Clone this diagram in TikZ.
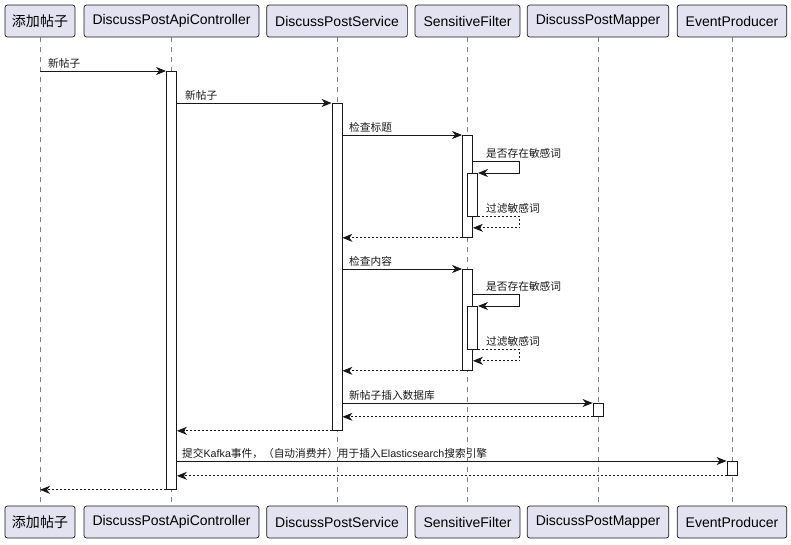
\documentclass[tikz,border=0pt]{standalone}
\usepackage{fontspec}
\setmainfont{Liberation Sans}
\newfontfamily\cjk{Noto Sans CJK SC}
\usepackage{tikz}
\usetikzlibrary{arrows.meta,
                positioning}
\definecolor{partfill}{HTML}{E2E2F0}
\definecolor{linecol}{HTML}{181818}
\tikzset{
  part/.style={draw=linecol,fill=partfill,rounded corners=2.5pt,line width=0.7pt,
    minimum height=32pt,inner xsep=8.5pt,font=\fontsize{14}{16}\selectfont},
  life/.style={draw=linecol!55,line width=0.7pt,dash pattern=on 5pt off 5pt},
  actbar/.style={draw=linecol,fill=white,line width=0.8pt,minimum width=10pt,
    inner sep=0pt,anchor=north},
  msg/.style={draw=linecol,line width=0.9pt,-{Stealth[length=10pt,width=8pt,inset=3pt]}},
  ret/.style={msg,dash pattern=on 2pt off 2pt},
  lbl/.style={anchor=base west,inner sep=0pt,font=\fontsize{10.7}{13}\selectfont,text=linecol}
}

\begin{document}
\begin{tikzpicture}[x=1pt,y=-1pt]
\useasboundingbox (0,0) rectangle (791,544);
% participants, top and bottom
\foreach \n/\x/\w/\t in {u/40/7/{\cjk 添加帖子},c/171.5/8.5/DiscussPostApiController,
    s/337/8.5/DiscussPostService,f/467.5/8.5/SensitiveFilter,
    m/598/8.5/DiscussPostMapper,e/732/8.5/EventProducer}{
  \node[part,inner xsep=\w pt] (\n) at (\x,21) {\t};
  \node[part,inner xsep=\w pt] (\n b) at (\x,522) {\t};
}
\foreach \n in {u,c,s,f,m,e}
  \draw[life] (\n) -- (\n b);

% activations
\node[actbar,minimum height=418pt] (ac) at (c |- 0,71) {};
\node[actbar,minimum height=327pt] (as) at (s |- 0,103) {};
\node[actbar,minimum height=102pt] (af1) at (f |- 0,135) {};
\node[actbar,minimum height=43pt] (af1n) at ([xshift=5pt]f |- 0,173) {};
\node[actbar,minimum height=101pt] (af2) at (f |- 0,269) {};
\node[actbar,minimum height=43pt] (af2n) at ([xshift=5pt]f |- 0,306) {};
\node[actbar,minimum height=13pt] (am) at (m |- 0,403) {};
\node[actbar,minimum height=14pt] (ae) at (e |- 0,461) {};

% messages
\draw[msg] (u |- ac.north) -- (ac.north west);
\node[lbl] (t1) at (48,67) {\cjk 新帖子};
\draw[msg] (ac.east |- as.north) -- (as.north west);
\node[lbl] (t2) at (185,99) {\cjk 新帖子};

\draw[msg] (as.east |- af1.north) -- (af1.north west);
\node[lbl] (t3) at (349,131) {\cjk 检查标题};
\draw[msg] ([yshift=12pt]af1n.north -| af1.east) -- ++(47,0) |- (af1n.north east);
\node[lbl] (t4) at (486,157) {\cjk 是否存在敏感词};
\draw[ret] (af1n.south east) -- ++(42,0) |- ([yshift=-11pt]af1n.south -| af1.east);
\node[lbl] (t5) at (486,212) {\cjk 过滤敏感词};
\draw[ret] (af1.south west) -- (as.east |- af1.south);

\draw[msg] (as.east |- af2.north) -- (af2.north west);
\node[lbl] (t6) at (349,265) {\cjk 检查内容};
\draw[msg] ([yshift=12pt]af2n.north -| af2.east) -- ++(47,0) |- (af2n.north east);
\node[lbl] (t7) at (486,290) {\cjk 是否存在敏感词};
\draw[ret] (af2n.south east) -- ++(42,0) |- ([yshift=-11pt]af2n.south -| af2.east);
\node[lbl] (t8) at (486,345) {\cjk 过滤敏感词};
\draw[ret] (af2.south west) -- (as.east |- af2.south);

\draw[msg] (as.east |- am.north) -- (am.north west);
\node[lbl] (t9) at (349,399) {\cjk 新帖子插入数据库};
\draw[ret] (am.south west) -- (as.east |- am.south);
\draw[ret] (as.south west) -- (ac.east |- as.south);

\draw[msg] (ac.east |- ae.north) -- (ae.north west);
\node[lbl] (t10) at (182,457) {{\cjk 提交}Kafka{\cjk 事件，（自动消费并）用于插入}Elasticsearch{\cjk 搜索引擎}};
\draw[ret] (ae.south west) -- (ac.east |- ae.south);
\draw[ret] (ac.south west) -- (u |- ac.south);
\end{tikzpicture}
\end{document}
